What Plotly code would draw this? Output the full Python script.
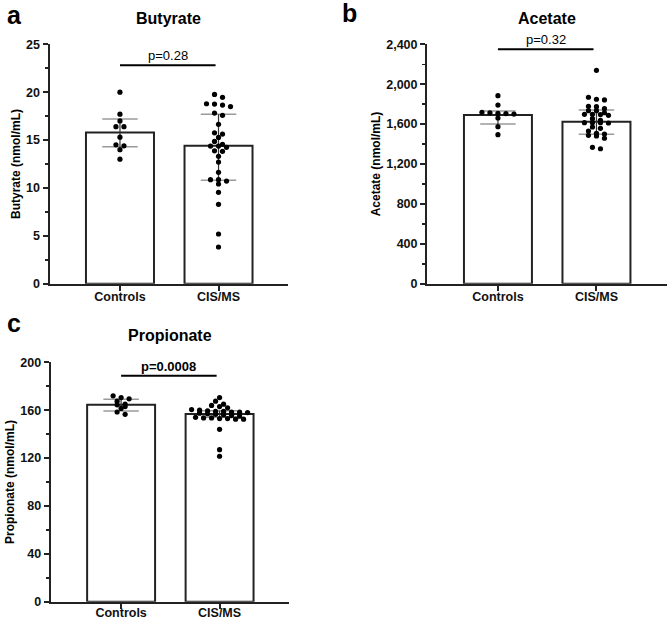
import plotly.graph_objects as go

# ---------------- data ----------------
categories = ["Controls", "CIS/MS"]

butyrate_controls = [20.0, 17.7, 17.0, 16.4, 16.4, 15.3, 14.5, 14.4, 14.0, 13.0]
butyrate_cisms = [19.77, 19.46, 18.79, 18.76, 18.65, 18.5, 17.82, 17.58, 16.64, 15.76,
                  15.63, 15.28, 14.86, 14.55, 14.37, 14.37, 14.24, 13.88, 13.82, 13.3,
                  12.7, 11.63, 10.86, 10.86, 10.72, 10.41, 9.54, 8.29, 5.19, 3.83]
butyrate_median = [15.8, 14.4]
butyrate_q1 = [14.3, 10.8]
butyrate_q3 = [17.2, 17.7]

acetate_controls = [1885, 1791, 1718, 1714, 1708, 1706, 1701, 1661, 1574, 1494]
acetate_cisms = [2139, 1869, 1849, 1842, 1778, 1775, 1755, 1735, 1735, 1714,
                 1698, 1698, 1695, 1688, 1654, 1638, 1614, 1614, 1611, 1614,
                 1571, 1558, 1531, 1508, 1501, 1487, 1481, 1458, 1367, 1353]
acetate_median = [1691, 1624]
acetate_q1 = [1601, 1498]
acetate_q3 = [1731, 1741]

propionate_controls = [172, 170.5, 169.5, 167.5, 165, 164.5, 163, 161.5, 158.5, 156.5]
propionate_cisms = [170.5, 167.5, 165, 164, 163, 162, 160.5, 160, 159.5, 159,
                    159, 158.5, 158.5, 158, 157.5, 157, 156.5, 156, 155.5, 155,
                    154, 153.5, 153.5, 153, 153, 152.5, 152.5, 144, 127, 121.5]
propionate_median = [164.6, 156.8]
propionate_q1 = [159.3, 154.0]
propionate_q3 = [169.1, 159.6]

p_labels = ["p=0.28", "p=0.32", "p=0.0008"]

# ---------------- layout helpers ----------------
W, H = 669, 620
FONT = "Liberation Sans, Arial, Helvetica, sans-serif"

panels = [
    dict(letter="a", title="Butyrate", ytitle="Butyrate (nmol/mL)",
         ctrl=butyrate_controls, cis=butyrate_cisms, med=butyrate_median,
         q1=butyrate_q1, q3=butyrate_q3, yr=[0, 25], dtick=5, minor=2.5,
         p=p_labels[0], pbold=False, sig_y=22.8, fmt="",
         xpx=[49.5, 288], ypx=[44.3, 283.7], xr=[-0.715, 1.705],
         title_y=19, letter_xy=(14, 14.5), standoff=3, xstand=-5),
    dict(letter="b", title="Acetate", ytitle="Acetate (nmol/mL)",
         ctrl=acetate_controls, cis=acetate_cisms, med=acetate_median,
         q1=acetate_q1, q3=acetate_q3, yr=[0, 2400], dtick=400, minor=200,
         p=p_labels[1], pbold=False, sig_y=2350, fmt=",d",
         xpx=[427, 667], ypx=[44.3, 283.7], xr=[-0.72, 1.716],
         title_y=19, letter_xy=(349, 13.5), standoff=3, xstand=-5),
    dict(letter="c", title="Propionate", ytitle="Propionate (nmol/mL)",
         ctrl=propionate_controls, cis=propionate_cisms, med=propionate_median,
         q1=propionate_q1, q3=propionate_q3, yr=[0, 200], dtick=40, minor=20,
         p=p_labels[2], pbold=True, sig_y=188.8, fmt="",
         xpx=[50.7, 289], ypx=[362.3, 601.7], xr=[-0.715, 1.705],
         title_y=335, letter_xy=(14, 323), standoff=3, xstand=-7),
]


def swarm(values, px_per_y, px_per_x, step_px=8.0, row_px=3.5):
    vals = sorted(values, reverse=True)
    xs, ys, row = [], [], []

    def flush(r):
        n = len(r)
        for k, v in enumerate(r):
            xs.append((k - (n - 1) / 2) * step_px / px_per_x)
            ys.append(v)

    for v in vals:
        if row and (row[0] - v) * px_per_y > row_px:
            flush(row)
            row = []
        row.append(v)
    if row:
        flush(row)
    return xs, ys


fig = go.Figure()
annotations = []
BAR_W = 0.69
CAP = 0.18

for i, P in enumerate(panels):
    sfx = "" if i == 0 else str(i + 1)
    xa, ya = "x" + sfx, "y" + sfx
    xdom = [P["xpx"][0] / W, P["xpx"][1] / W]
    ydom = [1 - P["ypx"][1] / H, 1 - P["ypx"][0] / H]
    px_per_y = (P["ypx"][1] - P["ypx"][0]) / (P["yr"][1] - P["yr"][0])
    px_per_x = (P["xpx"][1] - P["xpx"][0]) / (P["xr"][1] - P["xr"][0])

    # bars
    fig.add_trace(go.Bar(x=[0, 1], y=P["med"], width=BAR_W, xaxis=xa, yaxis=ya,
                         marker=dict(color="white", line=dict(color="#222", width=2)),
                         showlegend=False, hoverinfo="skip"))

    # error bars: vertical black, caps grey
    vx, vy, cx, cy = [], [], [], []
    for g in range(2):
        vx += [g, g, None]
        vy += [P["q1"][g], P["q3"][g], None]
        for q in (P["q1"][g], P["q3"][g]):
            cx += [g - CAP, g + CAP, None]
            cy += [q, q, None]
    fig.add_trace(go.Scatter(x=cx, y=cy, mode="lines", xaxis=xa, yaxis=ya,
                             line=dict(color="#9a9a9a", width=1.5),
                             showlegend=False, hoverinfo="skip"))
    fig.add_trace(go.Scatter(x=vx, y=vy, mode="lines", xaxis=xa, yaxis=ya,
                             line=dict(color="#333", width=1.2),
                             showlegend=False, hoverinfo="skip"))

    # dots
    for g, vals in enumerate([P["ctrl"], P["cis"]]):
        ox, oy = swarm(vals, px_per_y, px_per_x)
        fig.add_trace(go.Scatter(x=[g + o for o in ox], y=oy, mode="markers",
                                 xaxis=xa, yaxis=ya,
                                 marker=dict(color="black", size=5.2, line=dict(width=0)),
                                 showlegend=False, hoverinfo="skip", cliponaxis=False))

    # significance line
    fig.add_trace(go.Scatter(x=[0, 0.97], y=[P["sig_y"], P["sig_y"]], mode="lines",
                             xaxis=xa, yaxis=ya, line=dict(color="black", width=2),
                             showlegend=False, hoverinfo="skip", cliponaxis=False))
    ptxt = "<b>%s</b>" % P["p"] if P["pbold"] else P["p"]
    annotations.append(dict(x=0.485, y=P["sig_y"], xref=xa, yref=ya, text=ptxt,
                            showarrow=False, yanchor="bottom", yshift=0,
                            font=dict(family=FONT, size=13, color="black")))

    # title and letter
    annotations.append(dict(x=(xdom[0] + xdom[1]) / 2, y=1 - P["title_y"] / H,
                            xref="paper", yref="paper", text="<b>%s</b>" % P["title"],
                            showarrow=False, xanchor="center", yanchor="middle",
                            font=dict(family=FONT, size=16, color="black")))
    lx, ly = P["letter_xy"]
    annotations.append(dict(x=lx / W, y=1 - ly / H, xref="paper", yref="paper",
                            text="<b>%s</b>" % P["letter"], showarrow=False,
                            xanchor="center", yanchor="middle",
                            font=dict(family=FONT, size=25, color="black")))

    xkey = "xaxis" + sfx
    ykey = "yaxis" + sfx
    fig.update_layout(**{
        xkey: dict(domain=xdom, anchor=ya, range=P["xr"], tickmode="array",
                   tickvals=[0, 1], ticktext=categories, showline=True,
                   linecolor="#222", linewidth=2, ticks="outside", ticklen=5,
                   tickwidth=2, tickcolor="#222", showgrid=False, zeroline=False,
                   fixedrange=True, ticklabelstandoff=P["xstand"], automargin=False,
                   tickfont=dict(family=FONT, size=12.5, color="#111", weight="bold")),
        ykey: dict(domain=ydom, anchor=xa, range=P["yr"], dtick=P["dtick"], tick0=0,
                   tickformat=P["fmt"], showline=True, linecolor="#222", linewidth=2,
                   ticks="outside", ticklen=5, tickwidth=2, tickcolor="#222",
                   showgrid=False, zeroline=False, fixedrange=True, automargin=False,
                   minor=dict(dtick=P["minor"], tick0=0, ticks="outside", ticklen=3,
                              tickwidth=1.5, tickcolor="#222", showgrid=False),
                   tickfont=dict(family=FONT, size=12.5, color="#111", weight="bold"),
                   title=dict(text="<b>%s</b>" % P["ytitle"], standoff=P["standoff"],
                              font=dict(family=FONT, size=12, color="black"))),
    })

fig.update_layout(template="none", width=W, height=H,
                  margin=dict(l=0, r=0, t=0, b=0, pad=0, autoexpand=False),
                  paper_bgcolor="white", plot_bgcolor="white",
                  annotations=annotations, bargap=0, showlegend=False)

fig.write_html("out.html", config={"displayModeBar": False, "staticPlot": True},
               post_script="document.body.style.margin='0';document.body.style.padding='0';"
                           "document.body.style.overflow='hidden';")
